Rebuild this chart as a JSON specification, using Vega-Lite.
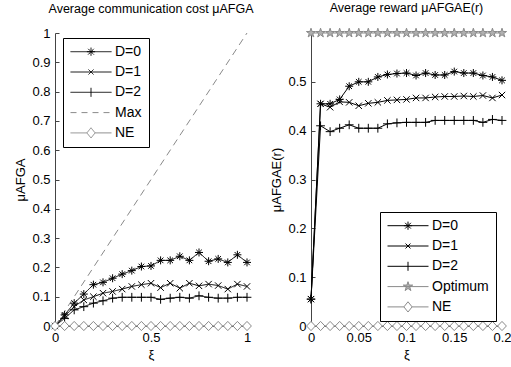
{
  "$schema": "https://vega.github.io/schema/vega-lite/v6.json",
  "padding": {"left": 14, "top": 1, "right": 0, "bottom": 0},
  "background": "white",
  "datasets": {
    "left": [
      {"x": 0, "D=0": 0, "D=1": 0, "D=2": 0, "NE": 0, "Max": 0},
      {"x": 0.05, "D=0": 0.038, "D=1": 0.034, "D=2": 0.026, "NE": 0},
      {"x": 0.1, "D=0": 0.078, "D=1": 0.066, "D=2": 0.055, "NE": 0},
      {"x": 0.15, "D=0": 0.109, "D=1": 0.089, "D=2": 0.066, "NE": 0},
      {"x": 0.2, "D=0": 0.141, "D=1": 0.1, "D=2": 0.078, "NE": 0},
      {"x": 0.25, "D=0": 0.149, "D=1": 0.112, "D=2": 0.086, "NE": 0},
      {"x": 0.3, "D=0": 0.163, "D=1": 0.118, "D=2": 0.095, "NE": 0},
      {"x": 0.35, "D=0": 0.177, "D=1": 0.126, "D=2": 0.098, "NE": 0},
      {"x": 0.4, "D=0": 0.189, "D=1": 0.135, "D=2": 0.098, "NE": 0},
      {"x": 0.45, "D=0": 0.203, "D=1": 0.141, "D=2": 0.098, "NE": 0},
      {"x": 0.5, "D=0": 0.205, "D=1": 0.146, "D=2": 0.098, "NE": 0},
      {"x": 0.55, "D=0": 0.224, "D=1": 0.131, "D=2": 0.091, "NE": 0},
      {"x": 0.6, "D=0": 0.224, "D=1": 0.146, "D=2": 0.095, "NE": 0},
      {"x": 0.65, "D=0": 0.238, "D=1": 0.129, "D=2": 0.098, "NE": 0},
      {"x": 0.7, "D=0": 0.224, "D=1": 0.146, "D=2": 0.095, "NE": 0},
      {"x": 0.75, "D=0": 0.251, "D=1": 0.137, "D=2": 0.103, "NE": 0},
      {"x": 0.8, "D=0": 0.221, "D=1": 0.143, "D=2": 0.098, "NE": 0},
      {"x": 0.85, "D=0": 0.229, "D=1": 0.138, "D=2": 0.095, "NE": 0},
      {"x": 0.9, "D=0": 0.217, "D=1": 0.126, "D=2": 0.095, "NE": 0},
      {"x": 0.95, "D=0": 0.243, "D=1": 0.143, "D=2": 0.098, "NE": 0},
      {"x": 1, "D=0": 0.217, "D=1": 0.135, "D=2": 0.098, "NE": 0, "Max": 1}
    ],
    "right": [
      {"x": 0, "D=0": 0.055, "D=1": 0.055, "D=2": 0.055, "Optimum": 0.6, "NE": 0},
      {"x": 0.01, "D=0": 0.455, "D=1": 0.455, "D=2": 0.41, "Optimum": 0.6, "NE": 0},
      {"x": 0.02, "D=0": 0.455, "D=1": 0.448, "D=2": 0.398, "Optimum": 0.6, "NE": 0},
      {"x": 0.03, "D=0": 0.464, "D=1": 0.459, "D=2": 0.405, "Optimum": 0.6, "NE": 0},
      {"x": 0.04, "D=0": 0.491, "D=1": 0.458, "D=2": 0.412, "Optimum": 0.6, "NE": 0},
      {"x": 0.05, "D=0": 0.5, "D=1": 0.451, "D=2": 0.405, "Optimum": 0.6, "NE": 0},
      {"x": 0.06, "D=0": 0.5, "D=1": 0.456, "D=2": 0.405, "Optimum": 0.6, "NE": 0},
      {"x": 0.07, "D=0": 0.51, "D=1": 0.458, "D=2": 0.405, "Optimum": 0.6, "NE": 0},
      {"x": 0.08, "D=0": 0.515, "D=1": 0.462, "D=2": 0.414, "Optimum": 0.6, "NE": 0},
      {"x": 0.09, "D=0": 0.517, "D=1": 0.463, "D=2": 0.416, "Optimum": 0.6, "NE": 0},
      {"x": 0.1, "D=0": 0.518, "D=1": 0.464, "D=2": 0.417, "Optimum": 0.6, "NE": 0},
      {"x": 0.11, "D=0": 0.513, "D=1": 0.467, "D=2": 0.417, "Optimum": 0.6, "NE": 0},
      {"x": 0.12, "D=0": 0.518, "D=1": 0.467, "D=2": 0.417, "Optimum": 0.6, "NE": 0},
      {"x": 0.13, "D=0": 0.514, "D=1": 0.469, "D=2": 0.421, "Optimum": 0.6, "NE": 0},
      {"x": 0.14, "D=0": 0.514, "D=1": 0.47, "D=2": 0.421, "Optimum": 0.6, "NE": 0},
      {"x": 0.15, "D=0": 0.521, "D=1": 0.47, "D=2": 0.421, "Optimum": 0.6, "NE": 0},
      {"x": 0.16, "D=0": 0.518, "D=1": 0.471, "D=2": 0.421, "Optimum": 0.6, "NE": 0},
      {"x": 0.17, "D=0": 0.518, "D=1": 0.47, "D=2": 0.421, "Optimum": 0.6, "NE": 0},
      {"x": 0.18, "D=0": 0.513, "D=1": 0.472, "D=2": 0.417, "Optimum": 0.6, "NE": 0},
      {"x": 0.19, "D=0": 0.51, "D=1": 0.467, "D=2": 0.423, "Optimum": 0.6, "NE": 0},
      {"x": 0.2, "D=0": 0.503, "D=1": 0.473, "D=2": 0.421, "Optimum": 0.6, "NE": 0}
    ]
  },
  "config": {
    "font": "Liberation Sans",
    "view": {"stroke": null},
    "axis": {
      "grid": false, "domainColor": "#444", "tickColor": "#444", "tickSize": -4,
      "labelPadding": 9, "labelFontSize": 13, "labelColor": "black", "labelFlush": false,
      "labelOverlap": false, "titleFontSize": 13, "titleFontWeight": "normal", "titleColor": "black"
    },
    "title": {"fontSize": 12.5, "fontWeight": "normal", "frame": "group", "offset": 12, "color": "black"},
    "legend": {
      "title": null, "symbolSize": 1681, "symbolStrokeWidth": 1, "clipHeight": 13.4, "rowPadding": 5.3,
      "padding": 7, "symbolOffset": 0, "labelOffset": 3, "labelFontSize": 14, "labelColor": "black",
      "strokeColor": "black", "fillColor": "white", "orient": "none"
    }
  },
  "spacing": 16,
  "hconcat": [
    {
      "width": 192, "height": 293,
      "title": "Average communication cost μAFGA",
      "data": {"name": "left"},
      "transform": [
        {"fold": ["D=0", "D=1", "D=2", "Max", "NE"], "as": ["s", "y"]},
        {"filter": "datum.y != null"}
      ],
      "encoding": {
        "x": {"field": "x", "type": "quantitative", "scale": {"domain": [0, 1], "nice": false, "zero": false},
              "axis": {"values": [0, 0.5, 1], "format": "~g", "title": "ξ"}},
        "y": {"field": "y", "type": "quantitative", "scale": {"domain": [0, 1], "nice": false},
              "axis": {"values": [0, 0.1, 0.2, 0.3, 0.4, 0.5, 0.6, 0.7, 0.8, 0.9, 1], "format": "~g", "title": "μAFGA"}}
      },
      "layer": [
        {
          "mark": {"type": "line", "strokeWidth": 1},
          "encoding": {
            "stroke": {"field": "s", "type": "nominal", "legend": null,
                       "scale": {"domain": ["D=0", "D=1", "D=2", "Max", "NE"], "range": ["black", "black", "black", "#8a8a8a", "#8a8a8a"]}},
            "strokeDash": {"field": "s", "type": "nominal", "legend": null,
                       "scale": {"domain": ["D=0", "D=1", "D=2", "Max", "NE"], "range": [[1, 0], [1, 0], [1, 0], [7, 5], [1, 0]]}}
          }
        },
        {
          "transform": [{"filter": "datum.s != 'Max'"}],
          "mark": {"type": "point", "opacity": 1, "strokeWidth": 1, "size": 64},
          "encoding": {
            "shape": {"field": "s", "type": "nominal", "legend": null,
                      "scale": {"domain": ["D=0", "D=1", "D=2", "NE"],
                                "range": ["M-1,0L1,0M0,-1L0,1M-0.7,-0.7L0.7,0.7M-0.7,0.7L0.7,-0.7", "M-0.8,-0.8L0.8,0.8M-0.8,0.8L0.8,-0.8", "M-1.1,0L1.1,0M0,-1.1L0,1.1", "M0,-1.15L1.1,0L0,1.15L-1.1,0Z"]}},
            "stroke": {"field": "s", "type": "nominal", "legend": null,
                       "scale": {"domain": ["D=0", "D=1", "D=2", "NE"], "range": ["black", "black", "black", "#8a8a8a"]}},
            "fill": {"field": "s", "type": "nominal", "legend": null,
                     "scale": {"domain": ["D=0", "D=1", "D=2", "NE"], "range": ["transparent", "transparent", "transparent", "white"]}}
          }
        },
        {
          "transform": [{"filter": "datum.x < -1"}],
          "mark": {"type": "point", "opacity": 1, "strokeWidth": 1},
          "encoding": {
            "shape": {"field": "s", "type": "nominal",
                      "legend": {"legendX": 8, "legendY": 5, "labelExpr": "datum.label + '\u00a0'"},
                      "scale": {"domain": ["D=0", "D=1", "D=2", "Max", "NE"],
                                "range": ["M-1,0L1,0M-0.2,0L0.2,0M0,-0.2L0,0.2M-0.14,-0.14L0.14,0.14M-0.14,0.14L0.14,-0.14", "M-1,0L1,0M-0.12,-0.12L0.12,0.12M-0.12,0.12L0.12,-0.12", "M-1,0L1,0M0,-0.22L0,0.22", "M-1,0L1,0", "M-1,0L-0.2,0M0.2,0L1,0M0,-0.25L0.2,0L0,0.25L-0.2,0Z"]}},
            "stroke": {"field": "s", "type": "nominal",
                       "legend": {"legendX": 8, "legendY": 5, "labelExpr": "datum.label + '\u00a0'"},
                       "scale": {"domain": ["D=0", "D=1", "D=2", "Max", "NE"], "range": ["black", "black", "black", "#8a8a8a", "#8a8a8a"]}},
            "strokeDash": {"field": "s", "type": "nominal",
                       "legend": {"legendX": 8, "legendY": 5, "labelExpr": "datum.label + '\u00a0'"},
                       "scale": {"domain": ["D=0", "D=1", "D=2", "Max", "NE"], "range": [[1, 0], [1, 0], [1, 0], [6, 5], [1, 0]]}}
          }
        }
      ],
      "resolve": {"scale": {"shape": "independent", "stroke": "independent", "fill": "independent", "strokeDash": "independent"}}
    },
    {
      "width": 191, "height": 293,
      "title": "Average reward μAFGAE(r)",
      "data": {"name": "right"},
      "transform": [
        {"fold": ["D=0", "D=1", "D=2", "Optimum", "NE"], "as": ["s", "y"]}
      ],
      "encoding": {
        "x": {"field": "x", "type": "quantitative", "scale": {"domain": [0, 0.2], "nice": false, "zero": false},
              "axis": {"values": [0, 0.05, 0.1, 0.15, 0.2], "format": "~g", "title": "ξ"}},
        "y": {"field": "y", "type": "quantitative", "scale": {"domain": [0, 0.6], "nice": false},
              "axis": {"values": [0, 0.1, 0.2, 0.3, 0.4, 0.5], "format": "~g", "title": "μAFGAE(r)"}}
      },
      "layer": [
        {
          "mark": {"type": "line", "strokeWidth": 1},
          "encoding": {
            "stroke": {"field": "s", "type": "nominal", "legend": null,
                       "scale": {"domain": ["D=0", "D=1", "D=2", "Optimum", "NE"], "range": ["black", "black", "black", "#8a8a8a", "#8a8a8a"]}}
          }
        },
        {
          "mark": {"type": "point", "opacity": 1, "strokeWidth": 1, "size": 64},
          "encoding": {
            "shape": {"field": "s", "type": "nominal", "legend": null,
                      "scale": {"domain": ["D=0", "D=1", "D=2", "Optimum", "NE"],
                                "range": ["M-1,0L1,0M0,-1L0,1M-0.7,-0.7L0.7,0.7M-0.7,0.7L0.7,-0.7", "M-0.8,-0.8L0.8,0.8M-0.8,0.8L0.8,-0.8", "M-1.1,0L1.1,0M0,-1.1L0,1.1", "M0,-1.2L0.27,-0.371L1.141,-0.371L0.436,0.142L0.706,0.971L0,0.458L-0.706,0.971L-0.436,0.142L-1.141,-0.371L-0.27,-0.371Z", "M0,-1.15L1.1,0L0,1.15L-1.1,0Z"]}},
            "stroke": {"field": "s", "type": "nominal", "legend": null,
                       "scale": {"domain": ["D=0", "D=1", "D=2", "Optimum", "NE"], "range": ["black", "black", "black", "#8a8a8a", "#8a8a8a"]}},
            "fill": {"field": "s", "type": "nominal", "legend": null,
                     "scale": {"domain": ["D=0", "D=1", "D=2", "Optimum", "NE"], "range": ["transparent", "transparent", "transparent", "#b0b0b0", "white"]}}
          }
        },
        {
          "transform": [{"filter": "datum.x < -1"}],
          "mark": {"type": "point", "opacity": 1, "strokeWidth": 1},
          "encoding": {
            "shape": {"field": "s", "type": "nominal",
                      "legend": {"legendX": 69, "legendY": 179, "labelExpr": "datum.label + '\u00a0\u00a0'"},
                      "scale": {"domain": ["D=0", "D=1", "D=2", "Optimum", "NE"],
                                "range": ["M-1,0L1,0M-0.2,0L0.2,0M0,-0.2L0,0.2M-0.14,-0.14L0.14,0.14M-0.14,0.14L0.14,-0.14", "M-1,0L1,0M-0.12,-0.12L0.12,0.12M-0.12,0.12L0.12,-0.12", "M-1,0L1,0M0,-0.22L0,0.22", "M-1,0L1,0M0,-0.24L0.054,-0.074L0.228,-0.074L0.087,0.028L0.141,0.194L0,0.092L-0.141,0.194L-0.087,0.028L-0.228,-0.074L-0.054,-0.074Z", "M-1,0L-0.2,0M0.2,0L1,0M0,-0.25L0.2,0L0,0.25L-0.2,0Z"]}},
            "stroke": {"field": "s", "type": "nominal",
                       "legend": {"legendX": 69, "legendY": 179, "labelExpr": "datum.label + '\u00a0\u00a0'"},
                       "scale": {"domain": ["D=0", "D=1", "D=2", "Optimum", "NE"], "range": ["black", "black", "black", "#8a8a8a", "#8a8a8a"]}},
            "fill": {"field": "s", "type": "nominal",
                     "legend": {"legendX": 69, "legendY": 179, "labelExpr": "datum.label + '\u00a0\u00a0'"},
                     "scale": {"domain": ["D=0", "D=1", "D=2", "Optimum", "NE"], "range": ["transparent", "transparent", "transparent", "#b0b0b0", "transparent"]}}
          }
        }
      ],
      "resolve": {"scale": {"shape": "independent", "stroke": "independent", "fill": "independent", "strokeDash": "independent"}}
    }
  ]
}
